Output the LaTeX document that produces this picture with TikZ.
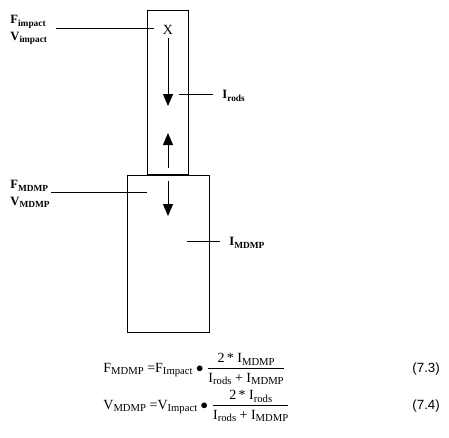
\documentclass[tikz,border=0pt]{standalone}
\usepackage{amsmath}
\usepackage{fontspec}
\setmainfont{Liberation Serif}
\newfontfamily\eqnumfont{Liberation Sans}
\usetikzlibrary{arrows.meta,positioning}
\newcommand\Subscr[2]{#1\raisebox{-2.2pt}{\fontsize{7}{7}\selectfont #2}}
\newcommand\EqSub[2]{#1\raisebox{-2.2pt}{\fontsize{8}{8}\selectfont #2}}

\begin{document}
\begin{tikzpicture}[x=0.75pt,y=-0.75pt,line width=0.6pt,
    lbl/.style={font=\fontsize{9.5}{12.5}\selectfont\bfseries,inner sep=0pt,align=left},
    eqn/.style={font=\fontsize{10.5}{12}\selectfont,inner sep=0pt},
    pulse/.style={-{Triangle[length=9pt,width=7.5pt]}}]
    \useasboundingbox (0,0) rectangle (449,437);
    \begin{scope} % rods
        \draw (147.5,10) rectangle (188.5,174.5);
        \node[eqn] (Xmark) at (168,30) {X};
        \coordinate (impPt) at (154,28);
        \coordinate (rodIn) at (179,94);
        \coordinate (rodTip) at (168,106);
        \coordinate (upTail) at (168,168);
        \coordinate (upTip) at (168,133);
        \draw[pulse,shorten <=2.5pt] (Xmark.south) -- (rodTip);
        \draw[pulse] (upTail) -- (upTip);
    \end{scope}
    \begin{scope} % MDMP
        \draw (127.5,175) rectangle (209.5,332);
        \coordinate (mdmpIn) at (147,192);
        \coordinate (mdmpTail) at (168,181);
        \coordinate (mdmpTip) at (168,216);
        \coordinate (mdmpMid) at (187,241);
        \draw[pulse] (mdmpTail) -- (mdmpTip);
    \end{scope}
    % labels
    \node[lbl,anchor=west] (FVimp) at (10,30) {\Subscr{F}{impact}\\\Subscr{V}{impact}};
    \draw[shorten <=6.75pt] (FVimp.east |- impPt) -- (impPt);
    \node[lbl,anchor=west] (FVmdmp) at (10,194) {\Subscr{F}{MDMP}\\\Subscr{V}{MDMP}};
    \draw[shorten <=1pt] (FVmdmp.east |- mdmpIn) -- (mdmpIn);
    \node[lbl,anchor=west] (Irods) at (222,96) {\Subscr{I}{rods}};
    \draw[shorten >=6.75pt] (rodIn) -- (Irods.west |- rodIn);
    \node[lbl,anchor=west] (Imdmp) at (229,243) {\Subscr{I}{MDMP}};
    \draw[shorten >=6.75pt] (mdmpMid) -- (Imdmp.west |- mdmpMid);
    % equations
    \node[eqn,anchor=base west] (eqF) at (103,372)
        {\EqSub{F}{MDMP} =\EqSub{F}{Impact} $\bullet$
         $\dfrac{\mbox{2\,* \EqSub{I}{MDMP}}}{\mbox{\EqSub{I}{rods} + \EqSub{I}{MDMP}}}$};
    \node[eqn,anchor=base west] (eqV) at (103,409)
        {\EqSub{V}{MDMP} =\EqSub{V}{Impact} $\bullet$
         $\dfrac{\mbox{2\,* \EqSub{I}{rods}}}{\mbox{\EqSub{I}{rods} + \EqSub{I}{MDMP}}}$};
    \node[eqn,font=\eqnumfont\fontsize{10}{12}\selectfont,anchor=base west] (num73) at (412,372) {(7.3)};
    \node[eqn,font=\eqnumfont\fontsize{10}{12}\selectfont,anchor=base west] (num74) at (412,409) {(7.4)};
\end{tikzpicture}
\end{document}
